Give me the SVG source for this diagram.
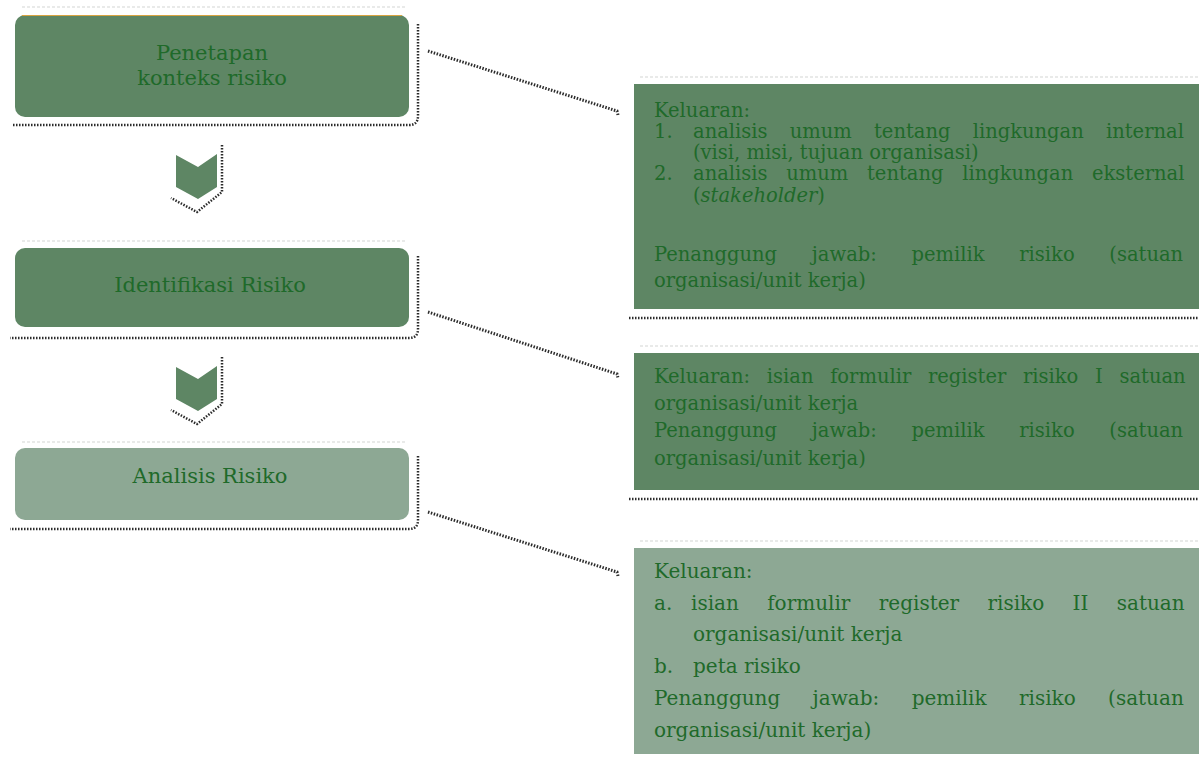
<svg xmlns="http://www.w3.org/2000/svg" width="1199" height="761" viewBox="0 0 1199 761">
<style>
.bg{fill:#ffffff}
.dark{fill:#5e8664}
.light{fill:#8da894}
.faint{stroke:#e2e4e2;stroke-width:1.5;stroke-dasharray:3 2}
.shadow{fill:none;stroke:#2b2b2b;stroke-width:2.5;stroke-dasharray:1.5 1.5}
.conn{fill:none;stroke:#2b2b2b;stroke-width:3;stroke-dasharray:1.5 1.5}
.lbl{font-family:"DejaVu Serif","Liberation Serif",serif;font-size:21px;fill:#1f6a2a;text-anchor:middle}
.t{font-family:"DejaVu Serif","Liberation Serif",serif;font-size:19.5px;fill:#1f6a2a}
.t3{font-family:"DejaVu Serif","Liberation Serif",serif;font-size:20px;fill:#1f6a2a}
</style>
<rect x="0" y="0" width="1199" height="761" class="bg"/>

<g id="connectors">
<path class="conn" d="M428,51 L617,111 L618,115"/>
<path class="conn" d="M428,312 L617,374 L618,378"/>
<path class="conn" d="M428,512 L617,572 L618,576"/>
</g>

<g id="node-penetapan">
<line class="faint" x1="22" y1="7" x2="405" y2="7"/>
<path class="shadow" d="M418,24 L418,116 Q418,125 409,125 L12,125"/>
<rect x="15" y="15" width="394" height="102" rx="10" class="dark"/>
<line x1="22" y1="15.5" x2="402" y2="15.5" stroke="#d9a441" stroke-width="1.2"/>
<text class="lbl" x="212" y="60">Penetapan</text>
<text class="lbl" x="212" y="85">konteks risiko</text>
</g>

<g id="arrow-1">
<path class="shadow" d="M222,145 L222,192 L197,212 L171,198"/>
<path class="dark" d="M176,155 L198,167 L217,154 L217,187 L198,199 L176,187 Z"/>
</g>

<g id="node-identifikasi">
<line class="faint" x1="22" y1="241" x2="405" y2="241"/>
<path class="shadow" d="M418,256 L418,329 Q418,338 409,338 L10,338"/>
<rect x="15" y="248" width="394" height="79" rx="10" class="dark"/>
<text class="lbl" x="210" y="292">Identifikasi Risiko</text>
</g>

<g id="arrow-2">
<path class="shadow" d="M222,357 L222,404 L197,424 L171,410"/>
<path class="dark" d="M176,367 L198,379 L217,366 L217,399 L198,411 L176,399 Z"/>
</g>

<g id="node-analisis">
<line class="faint" x1="22" y1="442" x2="405" y2="442"/>
<path class="shadow" d="M418,456 L418,520 Q418,529 409,529 L10,529"/>
<rect x="15" y="448" width="394" height="72" rx="10" class="light"/>
<text class="lbl" x="210" y="483">Analisis Risiko</text>
</g>

<g id="box-keluaran-1">
<line class="faint" x1="640" y1="77" x2="1199" y2="77"/>
<rect x="634" y="84" width="565" height="225" class="dark"/>
<line class="shadow" x1="629" y1="318" x2="1199" y2="318"/>
<text class="t" x="654" y="117">Keluaran:</text>
<text class="t" x="654" y="138">1.</text>
<text class="t" x="693" y="138" word-spacing="16">analisis umum tentang lingkungan internal</text>
<text class="t" x="693" y="159">(visi, misi, tujuan organisasi)</text>
<text class="t" x="654" y="180">2.</text>
<text class="t" x="693" y="180" word-spacing="12.5">analisis umum tentang lingkungan eksternal</text>
<text class="t" x="693" y="202">(<tspan font-style="italic">stakeholder</tspan>)</text>
<text class="t" x="654" y="261" word-spacing="28.5">Penanggung jawab: pemilik risiko (satuan</text>
<text class="t" x="654" y="287">organisasi/unit kerja)</text>
</g>

<g id="box-keluaran-2">
<line class="faint" x1="640" y1="346" x2="1199" y2="346"/>
<rect x="634" y="353" width="565" height="137" class="dark"/>
<line class="shadow" x1="629" y1="499" x2="1199" y2="499"/>
<text class="t" x="654" y="383" word-spacing="10.5">Keluaran: isian formulir register risiko I satuan</text>
<text class="t" x="654" y="410">organisasi/unit kerja</text>
<text class="t" x="654" y="437" word-spacing="28.5">Penanggung jawab: pemilik risiko (satuan</text>
<text class="t" x="654" y="465">organisasi/unit kerja)</text>
</g>

<g id="box-keluaran-3">
<line class="faint" x1="640" y1="541" x2="1199" y2="541"/>
<rect x="634" y="548" width="565" height="206" class="light"/>
<text class="t3" x="654" y="578">Keluaran:</text>
<text class="t3" x="654" y="610">a.</text>
<text class="t3" x="691" y="610" word-spacing="22">isian formulir register risiko II satuan</text>
<text class="t3" x="693" y="641">organisasi/unit kerja</text>
<text class="t3" x="654" y="673">b.</text>
<text class="t3" x="693" y="673">peta risiko</text>
<text class="t3" x="654" y="705" word-spacing="26">Penanggung jawab: pemilik risiko (satuan</text>
<text class="t3" x="654" y="737">organisasi/unit kerja)</text>
</g>
</svg>
